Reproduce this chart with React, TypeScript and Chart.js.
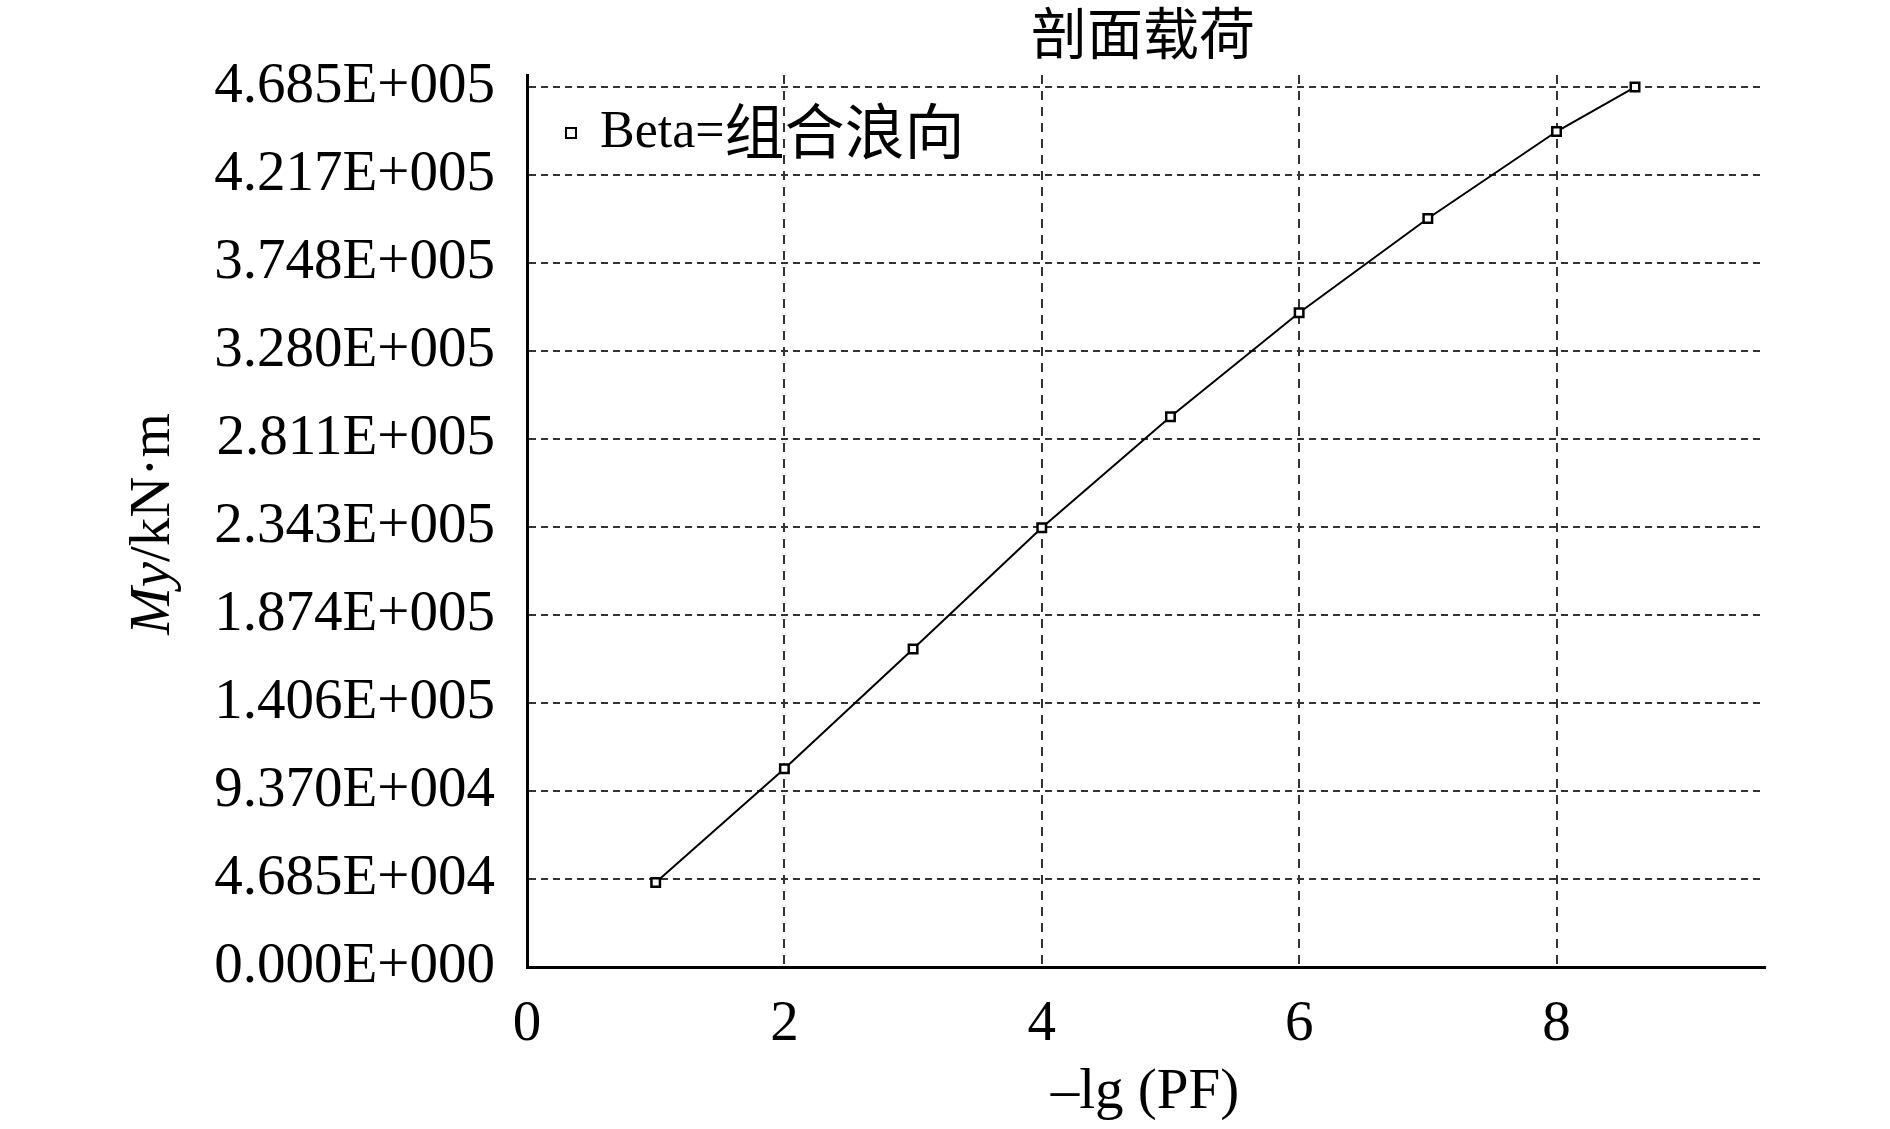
import React, { useEffect, useRef } from "react";
import { Chart, registerables } from "chart.js";

Chart.register(...registerables);

const titleText = "剖面载荷";
const xAxisTitle = "–lg (PF)";
const yAxisTitleItalic = "My";
const yAxisTitleRest = "/kN·m";
const seriesLabel = "Beta=组合浪向";

const xValues = [1, 2, 3, 4, 5, 6, 7, 8, 8.61];
const yValues = [45000, 105500, 169300, 233800, 293000, 348300, 398500, 444800, 468500];

const xTickValues = [0, 2, 4, 6, 8];
const xMax = 9.62;
const yTickValues = [0, 46850, 93700, 140550, 187400, 234250, 281100, 327950, 374800, 421650, 468500];
const yTickLabels = [
  "0.000E+000",
  "4.685E+004",
  "9.370E+004",
  "1.406E+005",
  "1.874E+005",
  "2.343E+005",
  "2.811E+005",
  "3.280E+005",
  "3.748E+005",
  "4.217E+005",
  "4.685E+005",
];
const yMax = 474900;

const SERIF = "'Liberation Serif', 'Times New Roman', 'Noto Sans CJK SC', serif";
const CJK = "'Noto Sans CJK SC', 'Liberation Serif', serif";

const textPlugin = {
  id: "textPlugin",
  afterDraw(chart: any) {
    const ctx = chart.ctx as CanvasRenderingContext2D;
    ctx.save();
    ctx.fillStyle = "#000";
    // Title
    ctx.font = `56px ${CJK}`;
    ctx.textAlign = "center";
    ctx.textBaseline = "middle";
    ctx.fillText(titleText, 1143, 33);

    // X axis title
    ctx.font = `57px ${SERIF}`;
    ctx.fillText(xAxisTitle, 1145, 1093);

    // Y axis title (rotated)
    ctx.save();
    ctx.translate(154, 524);
    ctx.rotate(-Math.PI / 2);
    ctx.textBaseline = "middle";
    ctx.font = `italic 57px ${SERIF}`;
    const w1 = ctx.measureText(yAxisTitleItalic).width;
    ctx.font = `57px ${SERIF}`;
    const w2 = ctx.measureText(yAxisTitleRest).width;
    const start = -(w1 + w2) / 2;
    ctx.textAlign = "left";
    ctx.font = `italic 57px ${SERIF}`;
    ctx.fillText(yAxisTitleItalic, start, 0);
    ctx.font = `57px ${SERIF}`;
    ctx.fillText(yAxisTitleRest, start + w1, 0);
    ctx.restore();

    // Legend
    const lx = 571;
    const ly = 133;
    ctx.strokeStyle = "#000";
    ctx.lineWidth = 2;
    ctx.fillStyle = "#fff";
    ctx.fillRect(lx - 5, ly - 5, 10, 10);
    ctx.strokeRect(lx - 5, ly - 5, 10, 10);
    ctx.fillStyle = "#000";
    ctx.textAlign = "left";
    ctx.textBaseline = "middle";
    const dsLabel = chart.data.datasets[0].label as string;
    const latin = dsLabel.slice(0, 5);
    const cjk = dsLabel.slice(5);
    ctx.font = `52px ${SERIF}`;
    ctx.fillText(latin, 600, ly);
    const lw = ctx.measureText(latin).width;
    ctx.font = `60px ${CJK}`;
    ctx.fillText(cjk, 600 + lw, ly - 2);
    ctx.restore();
  },
};

export default function App() {
  const canvasRef = useRef<HTMLCanvasElement | null>(null);

  useEffect(() => {
    if (!canvasRef.current) return;
    const chart = new Chart(canvasRef.current, {
      type: "line",
      data: {
        datasets: [
          {
            label: seriesLabel,
            data: xValues.map((x, i) => ({ x, y: yValues[i] })),
            borderColor: "#000",
            borderWidth: 2,
            backgroundColor: "#fff",
            pointStyle: "rect",
            pointRadius: 6,
            pointBorderWidth: 2.5,
            pointBorderColor: "#000",
            pointBackgroundColor: "#fff",
            tension: 0,
            fill: false,
          },
        ],
      },
      options: {
        animation: false,
        responsive: true,
        maintainAspectRatio: false,
        layout: { padding: { left: 0, right: 125, top: 75, bottom: 0 } },
        plugins: {
          legend: { display: false },
          title: { display: false },
          tooltip: { enabled: false },
        },
        scales: {
          x: {
            type: "linear",
            min: 0,
            max: xMax,
            afterBuildTicks: (scale: any) => {
              scale.ticks = xTickValues.map((v) => ({ value: v }));
            },
            afterFit: (scale: any) => {
              scale.height = 1129 - 967;
            },
            grid: {
              display: true,
              drawTicks: false,
              color: "#333",
              lineWidth: 2,
            },
            border: { display: true, color: "#000", width: 3, dash: [9, 7] },
            ticks: {
              color: "#000",
              font: { family: SERIF, size: 57 },
              padding: 24,
              maxRotation: 0,
              autoSkip: false,
              callback: (v: any) => String(v),
            },
          },
          y: {
            type: "linear",
            min: 0,
            max: yMax,
            afterBuildTicks: (scale: any) => {
              scale.ticks = yTickValues.map((v) => ({ value: v }));
            },
            afterFit: (scale: any) => {
              scale.width = 527;
            },
            grid: {
              display: true,
              drawTicks: false,
              color: "#333",
              lineWidth: 2,
            },
            border: { display: true, color: "#000", width: 3, dash: [7, 5] },
            ticks: {
              color: "#000",
              font: { family: SERIF, size: 57 },
              padding: 32,
              autoSkip: false,
              callback: (v: any) => {
                const idx = yTickValues.indexOf(Number(v));
                return idx >= 0 ? yTickLabels[idx] : "";
              },
            },
          },
        },
      },
      plugins: [textPlugin],
    } as any);
    return () => chart.destroy();
  }, []);

  return (
    <div style={{ position: "fixed", left: 0, top: 0, width: 1890, height: 1129, background: "#fff" }}>
      <canvas ref={canvasRef} />
    </div>
  );
}
